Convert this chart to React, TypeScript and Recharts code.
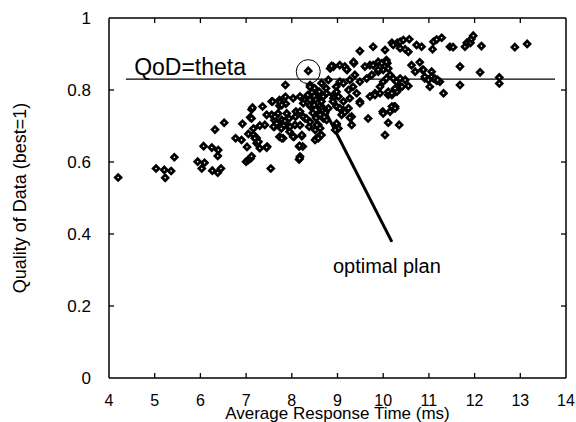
import React from 'react';
import { ScatterChart, Scatter, XAxis, YAxis, ReferenceLine, ReferenceDot } from 'recharts';

const responseTime: number[] = [
  4.20, 5.03, 5.21, 5.23, 5.36, 5.43, 5.94, 6.03, 6.09, 6.07, 6.25, 6.39, 6.38, 6.26, 6.38, 6.45,
  6.32, 6.52, 6.77, 6.90, 6.92, 7.09, 7.12, 7.05, 7.16, 7.02, 7.00, 7.05, 7.10, 7.16, 7.23, 7.30,
  7.23, 7.36, 7.41, 7.46, 7.54, 7.56, 7.56, 7.62, 7.62, 7.73, 7.73, 7.70, 7.76, 7.77, 7.73, 7.81,
  7.86, 7.86, 7.87, 7.89, 7.92, 7.94, 7.95, 8.03, 8.07, 8.08, 8.09, 8.05, 8.16, 8.16, 8.22, 8.18,
  8.29, 8.27, 8.38, 8.41, 8.37, 8.43, 8.36, 8.40, 7.14, 7.58, 7.74, 7.78, 8.18, 8.25, 8.40, 8.65,
  8.80, 8.84, 8.91, 9.05, 9.16, 9.21, 9.36, 9.49, 9.78, 10.04, 9.60, 9.71, 9.89, 10.07, 8.97, 9.05,
  9.13, 9.27, 9.38, 8.91, 8.98, 9.24, 9.34, 9.49, 9.64, 9.75, 9.89, 10.00, 9.93, 10.00, 10.07, 9.49,
  9.71, 9.82, 9.42, 9.27, 9.13, 8.98, 8.76, 8.69, 8.80, 8.58, 10.19, 10.22, 10.31, 10.37, 10.44, 10.57,
  10.37, 10.48, 10.55, 10.73, 10.84, 11.08, 11.10, 11.17, 11.28, 11.46, 11.53, 11.79, 11.83, 11.91, 11.93, 11.97,
  12.15, 12.88, 13.15, 8.87, 9.20, 9.35, 9.78, 9.89, 9.97, 10.09, 10.62, 10.70, 10.80, 10.86, 11.06, 11.68,
  12.12, 12.54, 12.54, 11.68, 11.32, 10.91, 10.99, 11.10, 11.17, 11.24, 11.02, 10.55, 10.37, 10.30, 10.19, 10.11,
  9.93, 9.82, 10.26, 10.15, 9.99, 10.11, 10.35, 10.04, 9.67, 9.49, 9.31, 9.31, 9.13, 9.05, 9.09, 8.98,
  9.02, 8.95, 8.91, 9.02, 8.54, 8.62, 8.24, 8.18, 7.45, 7.12, 7.30, 7.19, 7.27, 7.45, 7.12, 7.63,
  7.67, 7.60, 7.78, 7.85, 7.78, 7.96, 8.03, 8.18, 8.25, 8.32, 8.22, 8.17, 8.17, 8.58, 8.51, 8.58,
  8.65, 8.62, 8.69, 8.76, 8.65, 8.72, 8.98, 9.16, 9.24, 9.27, 10.00, 10.88, 10.91, 11.06, 11.13, 11.19,
  10.07, 10.11, 10.15, 10.22, 10.29, 10.37, 10.48, 10.41, 10.11, 10.19, 10.26, 10.24, 10.19, 10.26, 8.40, 8.44,
  8.49, 8.53, 8.57, 8.62, 8.66, 8.68, 8.73, 8.57, 8.49, 8.62, 8.71, 8.53, 8.46, 8.40, 8.35, 8.55,
  8.62, 8.51, 8.40, 8.50, 8.60, 8.75, 8.65, 8.90,
];

const qualityOfData: number[] = [
  0.557, 0.582, 0.578, 0.556, 0.575, 0.613, 0.601, 0.582, 0.598, 0.644, 0.640, 0.633, 0.617, 0.576, 0.570, 0.582,
  0.690, 0.709, 0.666, 0.661, 0.706, 0.724, 0.746, 0.678, 0.693, 0.642, 0.601, 0.606, 0.610, 0.676, 0.652, 0.638,
  0.667, 0.754, 0.703, 0.643, 0.582, 0.731, 0.768, 0.698, 0.716, 0.772, 0.756, 0.735, 0.709, 0.693, 0.670, 0.666,
  0.814, 0.781, 0.762, 0.735, 0.698, 0.721, 0.684, 0.777, 0.703, 0.726, 0.740, 0.670, 0.643, 0.607, 0.672, 0.702,
  0.721, 0.772, 0.698, 0.754, 0.783, 0.775, 0.853, 0.814, 0.751, 0.768, 0.766, 0.758, 0.782, 0.763, 0.758, 0.819,
  0.828, 0.860, 0.865, 0.869, 0.865, 0.856, 0.874, 0.908, 0.920, 0.911, 0.865, 0.869, 0.878, 0.883, 0.809, 0.823,
  0.819, 0.828, 0.842, 0.786, 0.795, 0.800, 0.809, 0.823, 0.832, 0.842, 0.851, 0.856, 0.809, 0.823, 0.832, 0.768,
  0.782, 0.791, 0.791, 0.777, 0.768, 0.754, 0.791, 0.782, 0.749, 0.754, 0.931, 0.925, 0.931, 0.934, 0.939, 0.941,
  0.916, 0.913, 0.906, 0.925, 0.920, 0.913, 0.934, 0.940, 0.945, 0.920, 0.919, 0.920, 0.931, 0.931, 0.942, 0.951,
  0.922, 0.919, 0.928, 0.867, 0.857, 0.878, 0.869, 0.856, 0.874, 0.874, 0.869, 0.851, 0.877, 0.856, 0.851, 0.865,
  0.849, 0.835, 0.818, 0.814, 0.791, 0.832, 0.828, 0.832, 0.826, 0.823, 0.809, 0.811, 0.809, 0.795, 0.786, 0.786,
  0.791, 0.786, 0.754, 0.740, 0.740, 0.709, 0.703, 0.675, 0.721, 0.763, 0.726, 0.703, 0.744, 0.749, 0.731, 0.703,
  0.693, 0.689, 0.777, 0.782, 0.666, 0.675, 0.643, 0.615, 0.731, 0.721, 0.701, 0.666, 0.656, 0.640, 0.616, 0.726,
  0.707, 0.698, 0.717, 0.714, 0.666, 0.698, 0.670, 0.740, 0.726, 0.721, 0.675, 0.645, 0.610, 0.703, 0.661, 0.666,
  0.675, 0.735, 0.721, 0.717, 0.754, 0.744, 0.707, 0.738, 0.749, 0.723, 0.735, 0.856, 0.837, 0.837, 0.832, 0.828,
  0.878, 0.860, 0.842, 0.832, 0.823, 0.832, 0.828, 0.809, 0.795, 0.791, 0.804, 0.754, 0.754, 0.749, 0.808, 0.794,
  0.783, 0.772, 0.764, 0.756, 0.750, 0.742, 0.736, 0.733, 0.758, 0.731, 0.725, 0.722, 0.736, 0.772, 0.786, 0.703,
  0.694, 0.689, 0.711, 0.805, 0.795, 0.805, 0.768, 0.768,
];

const xTicks: number[] = [4, 5, 6, 7, 8, 9, 10, 11, 12, 13, 14];
const yTicks: number[] = [0, 0.2, 0.4, 0.6, 0.8, 1];

const X_MIN = 4;
const X_MAX = 14;
const Y_MIN = 0;
const Y_MAX = 1;

const theta = 0.83;
const thetaLineStart = 4.37;
const thetaLineEnd = 13.76;
const optimalPoint = { x: 8.36, y: 0.851 };
const pointerStart = { x: 8.44, y: 0.814 };
const pointerEnd = { x: 10.19, y: 0.378 };
const thetaLabelPos = { x: 4.55, y: 0.842 };
const planLabelPos = { x: 8.9, y: 0.292 };

const data = responseTime.map((x, i) => ({ x, y: qualityOfData[i] }));

const innerX = xTicks.filter((t) => t > X_MIN && t < X_MAX);
const innerY = yTicks.filter((t) => t > Y_MIN && t < Y_MAX);
const bottomTickData = innerX.map((t) => ({ x: t, y: Y_MIN }));
const topTickData = innerX.map((t) => ({ x: t, y: Y_MAX }));
const leftTickData = innerY.map((t) => ({ x: X_MIN, y: t }));
const rightTickData = innerY.map((t) => ({ x: X_MAX, y: t }));

const FONT = 'Liberation Sans, Arial, Helvetica, sans-serif';
const TL = 5;
const MARGIN = { top: 18, right: 10, bottom: 14, left: 0 };

const Diamond = (props: any) => {
  const { cx, cy } = props;
  if (cx == null || cy == null) return null;
  const r = 4.8;
  const ri = 1.0;
  return (
    <g>
      <polygon points={`${cx},${cy - r} ${cx + r},${cy} ${cx},${cy + r} ${cx - r},${cy}`} fill="#000" />
      <polygon points={`${cx},${cy - ri} ${cx + ri},${cy} ${cx},${cy + ri} ${cx - ri},${cy}`} fill="#fff" />
    </g>
  );
};

const tickMark = (dx: number, dy: number) => (props: any) => {
  const { cx, cy } = props;
  if (cx == null || cy == null) return null;
  return <path d={`M${cx},${cy}L${cx + dx},${cy + dy}`} stroke="#000" strokeWidth={1.3} fill="none" />;
};

const fmtY = (v: number) => (v === 0 ? '0' : v === 1 ? '1' : String(v));

function FrameOverlay() {
  return (
    <ScatterChart width={576} height={422} margin={MARGIN}>
      <XAxis type="number" dataKey="x" domain={[X_MIN, X_MAX]} ticks={xTicks} interval={0} height={30} axisLine={false} tickLine={false} tick={false} />
      <YAxis type="number" dataKey="y" domain={[Y_MIN, Y_MAX]} ticks={yTicks} interval={0} width={109} axisLine={false} tickLine={false} tick={false} />
      <ReferenceLine y={Y_MAX} stroke="#000" strokeWidth={1.5} ifOverflow="visible" />
      <ReferenceLine x={X_MAX} stroke="#000" strokeWidth={1.5} ifOverflow="visible" />
      <Scatter data={bottomTickData} shape={tickMark(0, -TL)} isAnimationActive={false} />
      <Scatter data={topTickData} shape={tickMark(0, TL)} isAnimationActive={false} />
      <Scatter data={leftTickData} shape={tickMark(TL, 0)} isAnimationActive={false} />
      <Scatter data={rightTickData} shape={tickMark(-TL, 0)} isAnimationActive={false} />
    </ScatterChart>
  );
}

export default function App() {
  return (
    <div style={{ position: 'absolute', left: 0, top: 0, width: 576, height: 422, background: '#fff' }}>
      <div style={{ position: 'absolute', left: 0, top: 0 }}>
        <ScatterChart width={576} height={422} margin={MARGIN}>
          <XAxis
            type="number"
            dataKey="x"
            domain={[X_MIN, X_MAX]}
            ticks={xTicks}
            interval={0}
            height={30}
            tickLine={false}
            tickMargin={11}
            axisLine={{ stroke: '#000', strokeWidth: 1.5 }}
            tick={{ fill: '#000', fontSize: 16, fontFamily: FONT }}
            label={{ value: 'Average Response Time (ms)', position: 'bottom', offset: -1, fill: '#000', fontSize: 17, fontFamily: FONT }}
          />
          <YAxis
            type="number"
            dataKey="y"
            domain={[Y_MIN, Y_MAX]}
            ticks={yTicks}
            interval={0}
            width={109}
            tickLine={false}
            tickMargin={12}
            tickFormatter={fmtY}
            axisLine={{ stroke: '#000', strokeWidth: 1.5 }}
            tick={{ fill: '#000', fontSize: 17, fontFamily: FONT }}
            label={{
              value: 'Quality of Data (best=1)',
              angle: -90,
              position: 'insideLeft',
              offset: 20,
              fill: '#000',
              fontSize: 18,
              fontFamily: FONT,
              style: { textAnchor: 'middle' },
            }}
          />
          <ReferenceLine
            segment={[{ x: thetaLineStart, y: theta }, { x: thetaLineEnd, y: theta }]}
            stroke="#000"
            strokeWidth={1.2}
          />
          <Scatter data={data} shape={Diamond} isAnimationActive={false} />
          <ReferenceDot x={optimalPoint.x} y={optimalPoint.y} r={12} fill="none" stroke="#000" strokeWidth={1} />
          <ReferenceLine segment={[pointerStart, pointerEnd]} stroke="#000" strokeWidth={3} />
          <ReferenceDot
            x={thetaLabelPos.x}
            y={thetaLabelPos.y}
            r={0}
            shape={(p: any) => (
              <text x={p.cx} y={p.cy} fontSize={23} fontFamily={FONT} fill="#000">QoD=theta</text>
            )}
          />
          <ReferenceDot
            x={planLabelPos.x}
            y={planLabelPos.y}
            r={0}
            shape={(p: any) => (
              <text x={p.cx} y={p.cy} fontSize={20} fontFamily={FONT} fill="#000">optimal plan</text>
            )}
          />
        </ScatterChart>
      </div>
      <div style={{ position: 'absolute', left: 0, top: 0, pointerEvents: 'none' }}>
        <FrameOverlay />
      </div>
    </div>
  );
}
